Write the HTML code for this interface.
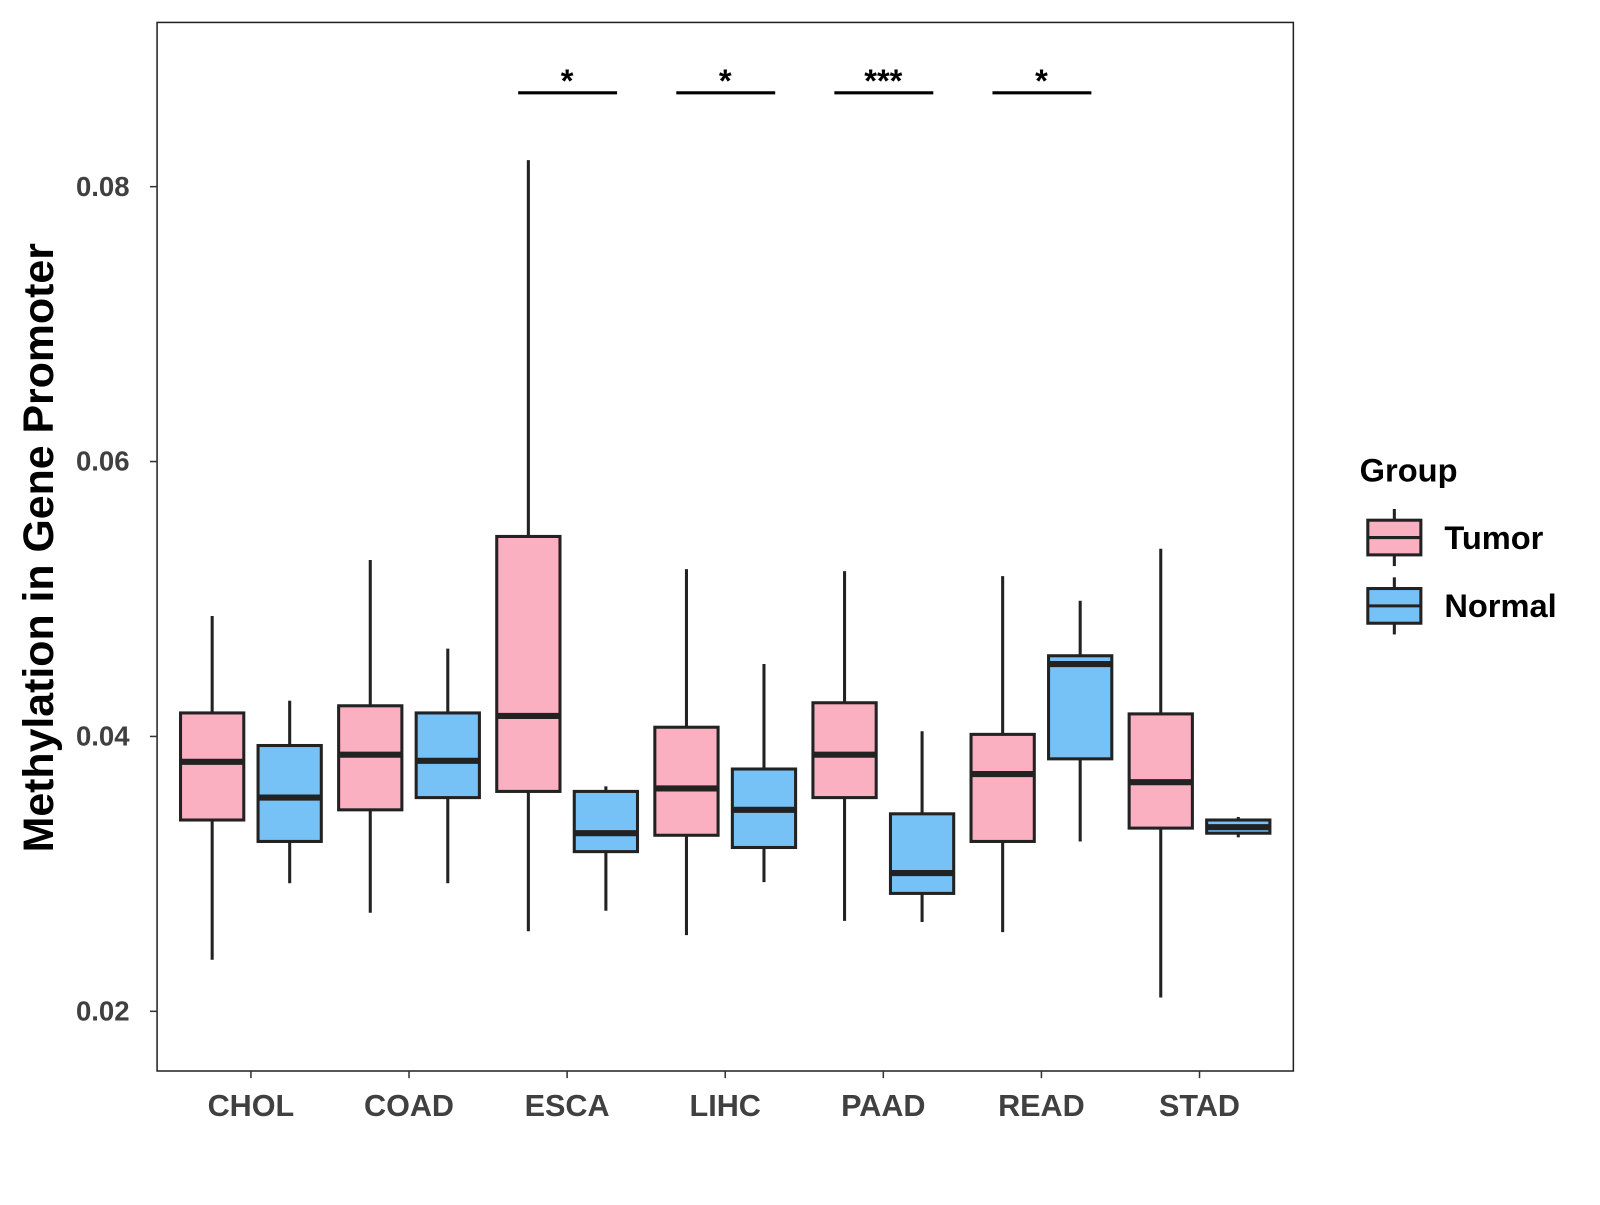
<!DOCTYPE html>
<html><head><meta charset="utf-8"><style>
body{margin:0;background:#fff;width:1600px;height:1200px;overflow:hidden}
svg text{font-family:"Liberation Sans",Arial,sans-serif;font-weight:bold}
</style></head><body>
<svg id="chart" width="1600" height="1200" xmlns="http://www.w3.org/2000/svg"><g id="root" transform="scale(1.02)"></g></svg>
<script>
const categories=["CHOL","COAD","ESCA","LIHC","PAAD","READ","STAD"];
// [lowWhisker, q1, median, q3, highWhisker]
const tumorStats=[
[0.02375,0.03392,0.03815,0.04171,0.04876],
[0.02717,0.03466,0.03867,0.04223,0.05284],
[0.02583,0.03600,0.04149,0.05455,0.08193],
[0.02554,0.03281,0.03622,0.04067,0.05217],
[0.02658,0.03555,0.03867,0.04245,0.05203],
[0.02576,0.03236,0.03726,0.04015,0.05166],
[0.02101,0.03333,0.03667,0.04164,0.05366]];
const normalStats=[
[0.02932,0.03236,0.03555,0.03934,0.04260],
[0.02932,0.03555,0.03823,0.04171,0.04639],
[0.02732,0.03162,0.03296,0.03600,0.03637],
[0.02940,0.03192,0.03466,0.03763,0.04527],
[0.02650,0.02858,0.03006,0.03437,0.04038],
[0.03236,0.03837,0.04527,0.04587,0.04987],
[0.03266,0.03296,0.03340,0.03392,0.03414]];
const significance=[null,null,"*","*","***","*",null];
const yTicks=[0.02,0.04,0.06,0.08];
const yTickLabels=["0.02","0.04","0.06","0.08"];

const svg=document.getElementById('root');
const NS="http://www.w3.org/2000/svg";
function el(tag,attrs,parent){const e=document.createElementNS(NS,tag);for(const k in attrs)e.setAttribute(k,attrs[k]);(parent||svg).appendChild(e);return e;}
const panel={x0:154,x1:1268,y0:22,y1:1050};
function yScale(v){return 183+(0.08-v)/0.02*269.5;}
function xScale(i){return 246+i*155;}

const frame=el('rect',{x:panel.x0,y:panel.y0,width:panel.x1-panel.x0,height:panel.y1-panel.y0,fill:'#fff',stroke:'#222','stroke-width':1.5});



yTicks.forEach((t,i)=>{
  const y=yScale(t);
  const tk=el('line',{x1:panel.x0-7,x2:panel.x0,y1:y,y2:y,stroke:'#333','stroke-width':1.5});
  
  
  const tx=el('text',{x:127,y:y+9,'text-anchor':'end','font-size':27,fill:'#404040'});
  tx.textContent=yTickLabels[i];
  
  
});
categories.forEach((c,i)=>{
  const x=xScale(i);
  const tk=el('line',{x1:x,x2:x,y1:panel.y1,y2:panel.y1+7,stroke:'#333','stroke-width':1.5});
  
  
  const tx=el('text',{x:x,y:1094,'text-anchor':'middle','font-size':30,fill:'#404040'});
  tx.textContent=c;
  
  
});
const yt=el('text',{x:0,y:0,transform:'translate(52,537) rotate(-90)','text-anchor':'middle','font-size':42,fill:'#000'});
yt.textContent='Methylation in Gene Promoter';



function drawBox(s,cx,fill,name){
  const g=el('g',{});
  
  
  const hw=31;
  el('line',{x1:cx,x2:cx,y1:yScale(s[4]),y2:yScale(s[3]),stroke:'#222','stroke-width':3},g);
  el('line',{x1:cx,x2:cx,y1:yScale(s[1]),y2:yScale(s[0]),stroke:'#222','stroke-width':3},g);
  el('rect',{x:cx-hw,y:yScale(s[3]),width:2*hw,height:Math.max(1,yScale(s[1])-yScale(s[3])),fill:fill,stroke:'#222','stroke-width':3},g);
  el('line',{x1:cx-hw,x2:cx+hw,y1:yScale(s[2]),y2:yScale(s[2]),stroke:'#222','stroke-width':6},g);
}
categories.forEach((c,i)=>{
  drawBox(tumorStats[i],xScale(i)-38,'#FBB0C2','box-tumor-'+c.toLowerCase());
  drawBox(normalStats[i],xScale(i)+38,'#76C2F7','box-normal-'+c.toLowerCase());
  if(significance[i]){
    const x=xScale(i);
    const l=el('line',{x1:x-48,x2:x+49,y1:91,y2:91,stroke:'#000','stroke-width':3});
    
    
    const t=el('text',{x:x,y:90,'text-anchor':'middle','font-size':32,fill:'#000'});
    t.textContent=significance[i];
    
    
  }
});
const lt=el('text',{x:1333,y:472,'font-size':32,fill:'#000'});
lt.textContent='Group';


[['Tumor','#FBB0C2',527],['Normal','#76C2F7',594]].forEach(([lab,col,cy])=>{
  const g=el('g',{});
  
  
  el('line',{x1:1367,x2:1367,y1:cy-28,y2:cy+28,stroke:'#222','stroke-width':3},g);
  el('rect',{x:1341,y:cy-17,width:52,height:34,fill:col,stroke:'#222','stroke-width':3},g);
  el('line',{x1:1341,x2:1393,y1:cy,y2:cy,stroke:'#222','stroke-width':3},g);
  const t=el('text',{x:1416,y:cy+11,'font-size':32,fill:'#000'},g);
  t.textContent=lab;
});
</script>
</body></html>
